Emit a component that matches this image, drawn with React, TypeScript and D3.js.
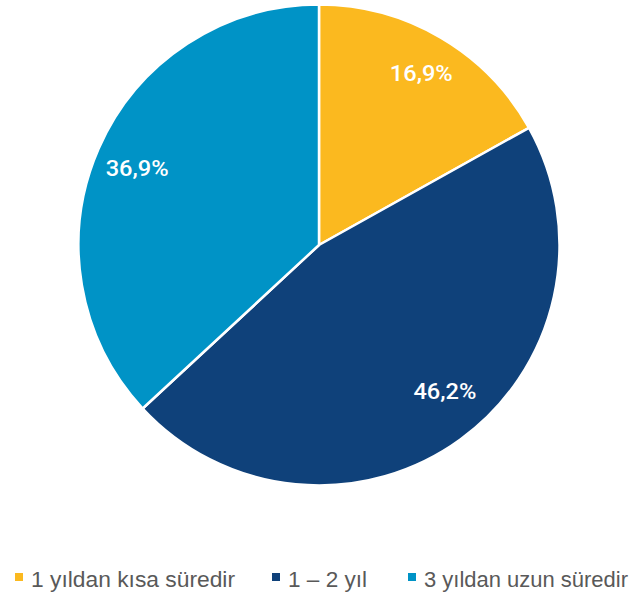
import React from "react";
import * as d3 from "d3";

const categories = ["1 yıldan kısa süredir", "1 – 2 yıl", "3 yıldan uzun süredir"];
const values = [16.9, 46.2, 36.9];
const labels = ["16,9%", "46,2%", "36,9%"];
const colors = ["#FBB91F", "#0F417A", "#0093C6"];

const W = 635;
const H = 594;

export default function App() {
  const cx = 319;
  const cy = 245;
  const r = 240.5;
  const pie = d3.pie<number>().sort(null).startAngle(0).endAngle(2 * Math.PI);
  const arcs = pie(values);
  const arc = d3.arc<d3.PieArcDatum<number>>().innerRadius(0).outerRadius(r);

  // best-fit style label placement (radius fraction, angle nudge in degrees)
  const labelFit = [
    { k: 0.84, da: 0 },
    { k: 0.795, da: -5.2 },
    { k: 0.825, da: 0 },
  ];

  const legendX = [15, 272, 408];
  const legendW = [204, 79, 204];
  return (
    <svg width={W} height={H} style={{ position: "absolute", left: 0, top: 0 }}>
      <rect width={W} height={H} fill="#fff" />
      <g transform={`translate(${cx},${cy})`}>
        {arcs.map((a, i) => (
          <path key={i} d={arc(a) || ""} fill={colors[i]} stroke="#fff" strokeWidth={2.5} strokeLinejoin="round" />
        ))}
        {arcs.map((a, i) => {
          const mid = (a.startAngle + a.endAngle) / 2 + (labelFit[i].da * Math.PI) / 180;
          const rr = r * labelFit[i].k;
          const x = Math.sin(mid) * rr;
          const y = -Math.cos(mid) * rr + 2.5;
          return (
            <text key={i} x={x} y={y} textAnchor="middle" dominantBaseline="central"
              fill="#fff" fontFamily="Roboto, Liberation Sans, Arial, sans-serif" fontSize={21.5} fontWeight={500}
              textLength={63} lengthAdjust="spacingAndGlyphs">
              {labels[i]}
            </text>
          );
        })}
      </g>
      <g>
        {categories.map((c, i) => (
          <g key={i}>
            <rect x={legendX[i]} y={573} width={8} height={8} fill={colors[i]} />
            <text x={legendX[i] + 16} y={579} dominantBaseline="central" fill="#595959"
              fontFamily="Liberation Sans, Arial, sans-serif" fontSize={22}
              textLength={legendW[i]} lengthAdjust="spacingAndGlyphs">
              {c}
            </text>
          </g>
        ))}
      </g>
    </svg>
  );
}
